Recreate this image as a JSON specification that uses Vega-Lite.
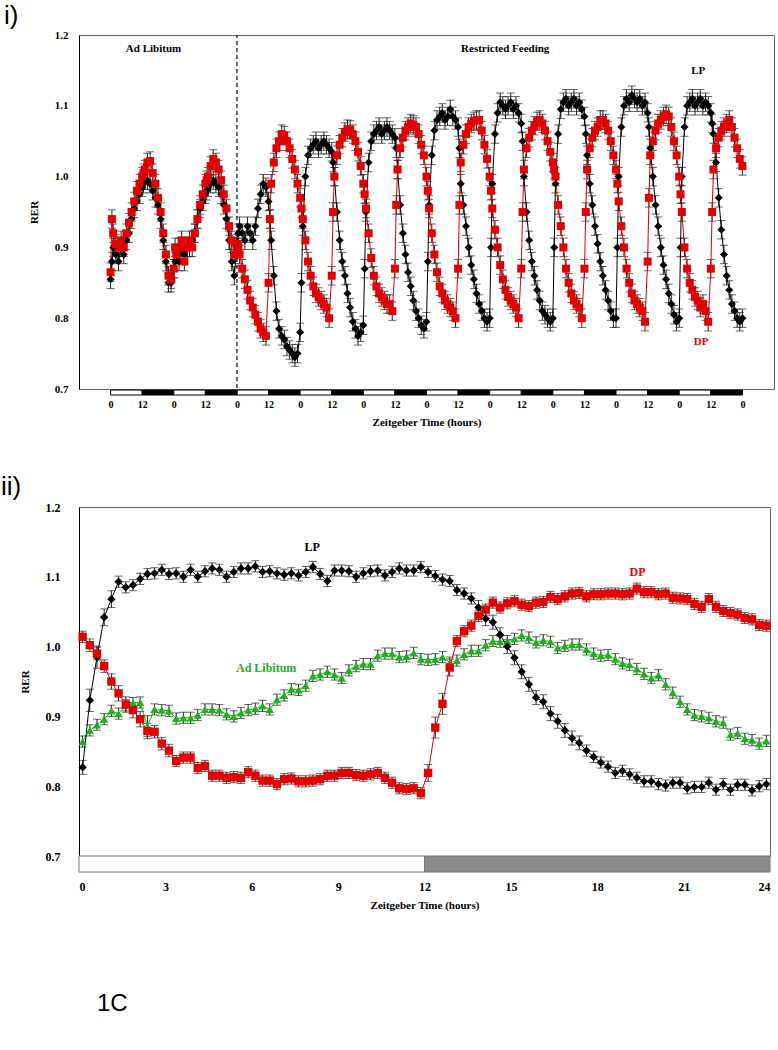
{
"$schema": "https://vega.github.io/schema/vega-lite/v6.json",
"padding": {"top": 2, "left": 0, "right": 0, "bottom": 0},
"spacing": 45,
"background": "white",
"config": {
 "view": {"stroke": "#666666", "strokeWidth": 1},
 "axis": {"grid": false, "ticks": false, "labelFont": "Liberation Serif", "labelFontWeight": "bold", "labelColor": "#000000", "titleFont": "Liberation Serif", "titleFontWeight": "bold", "titleColor": "#000000"}
},
"datasets": {
"bar1": [
{"t":0,"t2":12,"ph":"L","v":0.6985,"v2":0.6915},{"t":12,"t2":24,"ph":"D","v":0.6985,"v2":0.6915},{"t":24,"t2":36,"ph":"L","v":0.6985,"v2":0.6915},{"t":36,"t2":48,"ph":"D","v":0.6985,"v2":0.6915},{"t":48,"t2":60,"ph":"L","v":0.6985,"v2":0.6915},{"t":60,"t2":72,"ph":"D","v":0.6985,"v2":0.6915},{"t":72,"t2":84,"ph":"L","v":0.6985,"v2":0.6915},{"t":84,"t2":96,"ph":"D","v":0.6985,"v2":0.6915},{"t":96,"t2":108,"ph":"L","v":0.6985,"v2":0.6915},{"t":108,"t2":120,"ph":"D","v":0.6985,"v2":0.6915},{"t":120,"t2":132,"ph":"L","v":0.6985,"v2":0.6915},{"t":132,"t2":144,"ph":"D","v":0.6985,"v2":0.6915},{"t":144,"t2":156,"ph":"L","v":0.6985,"v2":0.6915},{"t":156,"t2":168,"ph":"D","v":0.6985,"v2":0.6915},{"t":168,"t2":180,"ph":"L","v":0.6985,"v2":0.6915},{"t":180,"t2":192,"ph":"D","v":0.6985,"v2":0.6915},{"t":192,"t2":204,"ph":"L","v":0.6985,"v2":0.6915},{"t":204,"t2":216,"ph":"D","v":0.6985,"v2":0.6915},{"t":216,"t2":228,"ph":"L","v":0.6985,"v2":0.6915},{"t":228,"t2":240,"ph":"D","v":0.6985,"v2":0.6915}
],
"bar2": [{"t":0,"t2":12,"ph":"W","v":0.7,"v2":0.677},{"t":12,"t2":24,"ph":"G","v":0.7,"v2":0.677}],
"rf": [{"t":48,"v":0.6915,"v2":1.2}],
"ann1": [
{"t":16.3,"v":1.18,"txt":"Ad Libitum","s":"X"},
{"t":149.9,"v":1.18,"txt":"Restricted Feeding","s":"X"},
{"t":223.2,"v":1.149,"txt":"LP","s":"LP"},
{"t":224.3,"v":0.766,"txt":"DP","s":"DP"}
],
"lab1": [{"t":-40.5,"v":1.2269,"txt":"i)"}],
"ann2": [
{"t":8.1,"v":1.143,"txt":"LP","s":"LP"},
{"t":6.5,"v":0.969,"txt":"Ad Libitum","s":"AL"},
{"t":19.4,"v":1.107,"txt":"DP","s":"DP"}
],
"lab2": [{"t":-2.71,"v":1.228,"txt":"ii)"}],
"lab3": [{"t":0.625,"v":0.488,"txt":"1C"}],
"p1": [
{"t":0,"s":"LP","v":0.855,"e":0.013},{"t":0.5,"s":"LP","v":0.88,"e":0.013},{"t":1,"s":"LP","v":0.9,"e":0.013},{"t":2,"s":"LP","v":0.89,"e":0.013},{"t":3,"s":"LP","v":0.88,"e":0.013},{"t":4,"s":"LP","v":0.9,"e":0.013},{"t":5,"s":"LP","v":0.89,"e":0.013},{"t":6,"s":"LP","v":0.91,"e":0.013},{"t":7,"s":"LP","v":0.92,"e":0.013},{"t":8,"s":"LP","v":0.94,"e":0.013},{"t":9,"s":"LP","v":0.955,"e":0.013},{"t":10,"s":"LP","v":0.965,"e":0.013},{"t":11,"s":"LP","v":0.975,"e":0.013},{"t":12,"s":"LP","v":0.985,"e":0.013},{"t":12.5,"s":"LP","v":0.99,"e":0.013},{"t":13,"s":"LP","v":0.995,"e":0.013},{"t":14,"s":"LP","v":0.995,"e":0.013},{"t":15,"s":"LP","v":0.99,"e":0.013},{"t":16,"s":"LP","v":0.98,"e":0.013},{"t":17,"s":"LP","v":0.97,"e":0.013},{"t":18,"s":"LP","v":0.96,"e":0.013},{"t":19,"s":"LP","v":0.94,"e":0.013},{"t":20,"s":"LP","v":0.91,"e":0.013},{"t":21,"s":"LP","v":0.88,"e":0.013},{"t":22,"s":"LP","v":0.85,"e":0.013},{"t":23,"s":"LP","v":0.85,"e":0.013},
{"t":24,"s":"LP","v":0.87,"e":0.013},{"t":24.5,"s":"LP","v":0.88,"e":0.013},{"t":25,"s":"LP","v":0.89,"e":0.013},{"t":26,"s":"LP","v":0.88,"e":0.013},{"t":27,"s":"LP","v":0.9,"e":0.013},{"t":28,"s":"LP","v":0.89,"e":0.013},{"t":29,"s":"LP","v":0.9,"e":0.013},{"t":30,"s":"LP","v":0.9,"e":0.013},{"t":31,"s":"LP","v":0.91,"e":0.013},{"t":32,"s":"LP","v":0.92,"e":0.013},{"t":33,"s":"LP","v":0.94,"e":0.013},{"t":34,"s":"LP","v":0.955,"e":0.013},{"t":35,"s":"LP","v":0.965,"e":0.013},{"t":36,"s":"LP","v":0.975,"e":0.013},{"t":36.5,"s":"LP","v":0.98,"e":0.013},{"t":37,"s":"LP","v":0.985,"e":0.013},{"t":38,"s":"LP","v":0.99,"e":0.013},{"t":39,"s":"LP","v":0.995,"e":0.013},{"t":40,"s":"LP","v":0.99,"e":0.013},{"t":41,"s":"LP","v":0.985,"e":0.013},{"t":42,"s":"LP","v":0.975,"e":0.013},{"t":43,"s":"LP","v":0.96,"e":0.013},{"t":44,"s":"LP","v":0.94,"e":0.013},{"t":45,"s":"LP","v":0.91,"e":0.013},{"t":46,"s":"LP","v":0.88,"e":0.013},{"t":47,"s":"LP","v":0.86,"e":0.013},
{"t":48,"s":"LP","v":0.9,"e":0.013},{"t":48.5,"s":"LP","v":0.92,"e":0.013},{"t":49,"s":"LP","v":0.93,"e":0.013},{"t":50,"s":"LP","v":0.92,"e":0.013},{"t":51,"s":"LP","v":0.91,"e":0.013},{"t":52,"s":"LP","v":0.93,"e":0.013},{"t":53,"s":"LP","v":0.92,"e":0.013},{"t":54,"s":"LP","v":0.91,"e":0.013},{"t":55,"s":"LP","v":0.93,"e":0.013},{"t":56,"s":"LP","v":0.955,"e":0.013},{"t":57,"s":"LP","v":0.975,"e":0.013},{"t":58,"s":"LP","v":0.99,"e":0.013},{"t":59,"s":"LP","v":0.985,"e":0.013},{"t":60,"s":"LP","v":0.965,"e":0.013},{"t":60.5,"s":"LP","v":0.94,"e":0.013},{"t":61,"s":"LP","v":0.91,"e":0.013},{"t":62,"s":"LP","v":0.86,"e":0.013},{"t":63,"s":"LP","v":0.81,"e":0.013},{"t":64,"s":"LP","v":0.785,"e":0.013},{"t":65,"s":"LP","v":0.775,"e":0.013},{"t":66,"s":"LP","v":0.77,"e":0.013},{"t":67,"s":"LP","v":0.76,"e":0.013},{"t":68,"s":"LP","v":0.755,"e":0.013},{"t":69,"s":"LP","v":0.75,"e":0.013},{"t":70,"s":"LP","v":0.745,"e":0.013},{"t":71,"s":"LP","v":0.75,"e":0.013},
{"t":72,"s":"LP","v":0.78,"e":0.013},{"t":72.5,"s":"LP","v":0.85,"e":0.013},{"t":73,"s":"LP","v":0.93,"e":0.013},{"t":74,"s":"LP","v":1.0,"e":0.013},{"t":75,"s":"LP","v":1.03,"e":0.013},{"t":76,"s":"LP","v":1.04,"e":0.013},{"t":77,"s":"LP","v":1.045,"e":0.013},{"t":78,"s":"LP","v":1.05,"e":0.013},{"t":79,"s":"LP","v":1.04,"e":0.013},{"t":80,"s":"LP","v":1.045,"e":0.013},{"t":81,"s":"LP","v":1.05,"e":0.013},{"t":82,"s":"LP","v":1.045,"e":0.013},{"t":83,"s":"LP","v":1.04,"e":0.013},{"t":84,"s":"LP","v":1.035,"e":0.013},{"t":84.5,"s":"LP","v":1.02,"e":0.013},{"t":85,"s":"LP","v":1.0,"e":0.013},{"t":86,"s":"LP","v":0.95,"e":0.013},{"t":87,"s":"LP","v":0.91,"e":0.013},{"t":88,"s":"LP","v":0.88,"e":0.013},{"t":89,"s":"LP","v":0.86,"e":0.013},{"t":90,"s":"LP","v":0.835,"e":0.013},{"t":91,"s":"LP","v":0.815,"e":0.013},{"t":92,"s":"LP","v":0.795,"e":0.013},{"t":93,"s":"LP","v":0.785,"e":0.013},{"t":94,"s":"LP","v":0.775,"e":0.013},{"t":95,"s":"LP","v":0.78,"e":0.013},
{"t":96,"s":"LP","v":0.79,"e":0.013},{"t":96.5,"s":"LP","v":0.87,"e":0.013},{"t":97,"s":"LP","v":0.95,"e":0.013},{"t":98,"s":"LP","v":1.02,"e":0.013},{"t":99,"s":"LP","v":1.05,"e":0.013},{"t":100,"s":"LP","v":1.06,"e":0.013},{"t":101,"s":"LP","v":1.065,"e":0.013},{"t":102,"s":"LP","v":1.07,"e":0.013},{"t":103,"s":"LP","v":1.06,"e":0.013},{"t":104,"s":"LP","v":1.065,"e":0.013},{"t":105,"s":"LP","v":1.07,"e":0.013},{"t":106,"s":"LP","v":1.065,"e":0.013},{"t":107,"s":"LP","v":1.06,"e":0.013},{"t":108,"s":"LP","v":1.055,"e":0.013},{"t":108.5,"s":"LP","v":1.04,"e":0.013},{"t":109,"s":"LP","v":1.01,"e":0.013},{"t":110,"s":"LP","v":0.96,"e":0.013},{"t":111,"s":"LP","v":0.92,"e":0.013},{"t":112,"s":"LP","v":0.89,"e":0.013},{"t":113,"s":"LP","v":0.865,"e":0.013},{"t":114,"s":"LP","v":0.845,"e":0.013},{"t":115,"s":"LP","v":0.825,"e":0.013},{"t":116,"s":"LP","v":0.81,"e":0.013},{"t":117,"s":"LP","v":0.8,"e":0.013},{"t":118,"s":"LP","v":0.79,"e":0.013},{"t":119,"s":"LP","v":0.785,"e":0.013},
{"t":120,"s":"LP","v":0.795,"e":0.013},{"t":120.5,"s":"LP","v":0.88,"e":0.013},{"t":121,"s":"LP","v":0.96,"e":0.013},{"t":122,"s":"LP","v":1.03,"e":0.013},{"t":123,"s":"LP","v":1.065,"e":0.013},{"t":124,"s":"LP","v":1.08,"e":0.013},{"t":125,"s":"LP","v":1.085,"e":0.013},{"t":126,"s":"LP","v":1.09,"e":0.013},{"t":127,"s":"LP","v":1.08,"e":0.013},{"t":128,"s":"LP","v":1.085,"e":0.013},{"t":129,"s":"LP","v":1.095,"e":0.013},{"t":130,"s":"LP","v":1.085,"e":0.013},{"t":131,"s":"LP","v":1.08,"e":0.013},{"t":132,"s":"LP","v":1.07,"e":0.013},{"t":132.5,"s":"LP","v":1.04,"e":0.013},{"t":133,"s":"LP","v":0.99,"e":0.013},{"t":134,"s":"LP","v":0.96,"e":0.013},{"t":135,"s":"LP","v":0.93,"e":0.013},{"t":136,"s":"LP","v":0.9,"e":0.013},{"t":137,"s":"LP","v":0.875,"e":0.013},{"t":138,"s":"LP","v":0.855,"e":0.013},{"t":139,"s":"LP","v":0.835,"e":0.013},{"t":140,"s":"LP","v":0.82,"e":0.013},{"t":141,"s":"LP","v":0.81,"e":0.013},{"t":142,"s":"LP","v":0.8,"e":0.013},{"t":143,"s":"LP","v":0.795,"e":0.013},
{"t":144,"s":"LP","v":0.8,"e":0.013},{"t":144.5,"s":"LP","v":0.9,"e":0.013},{"t":145,"s":"LP","v":0.99,"e":0.013},{"t":146,"s":"LP","v":1.06,"e":0.013},{"t":147,"s":"LP","v":1.09,"e":0.013},{"t":148,"s":"LP","v":1.105,"e":0.013},{"t":149,"s":"LP","v":1.1,"e":0.013},{"t":150,"s":"LP","v":1.095,"e":0.013},{"t":151,"s":"LP","v":1.1,"e":0.013},{"t":152,"s":"LP","v":1.105,"e":0.013},{"t":153,"s":"LP","v":1.095,"e":0.013},{"t":154,"s":"LP","v":1.1,"e":0.013},{"t":155,"s":"LP","v":1.09,"e":0.013},{"t":156,"s":"LP","v":1.075,"e":0.013},{"t":156.5,"s":"LP","v":1.05,"e":0.013},{"t":157,"s":"LP","v":1.0,"e":0.013},{"t":158,"s":"LP","v":0.95,"e":0.013},{"t":159,"s":"LP","v":0.91,"e":0.013},{"t":160,"s":"LP","v":0.88,"e":0.013},{"t":161,"s":"LP","v":0.86,"e":0.013},{"t":162,"s":"LP","v":0.84,"e":0.013},{"t":163,"s":"LP","v":0.825,"e":0.013},{"t":164,"s":"LP","v":0.81,"e":0.013},{"t":165,"s":"LP","v":0.805,"e":0.013},{"t":166,"s":"LP","v":0.8,"e":0.013},{"t":167,"s":"LP","v":0.795,"e":0.013},
{"t":168,"s":"LP","v":0.8,"e":0.013},{"t":168.5,"s":"LP","v":0.9,"e":0.013},{"t":169,"s":"LP","v":0.99,"e":0.013},{"t":170,"s":"LP","v":1.06,"e":0.013},{"t":171,"s":"LP","v":1.095,"e":0.013},{"t":172,"s":"LP","v":1.105,"e":0.013},{"t":173,"s":"LP","v":1.11,"e":0.013},{"t":174,"s":"LP","v":1.1,"e":0.013},{"t":175,"s":"LP","v":1.105,"e":0.013},{"t":176,"s":"LP","v":1.11,"e":0.013},{"t":177,"s":"LP","v":1.1,"e":0.013},{"t":178,"s":"LP","v":1.105,"e":0.013},{"t":179,"s":"LP","v":1.095,"e":0.013},{"t":180,"s":"LP","v":1.085,"e":0.013},{"t":180.5,"s":"LP","v":1.06,"e":0.013},{"t":181,"s":"LP","v":1.03,"e":0.013},{"t":182,"s":"LP","v":0.99,"e":0.013},{"t":183,"s":"LP","v":0.96,"e":0.013},{"t":184,"s":"LP","v":0.93,"e":0.013},{"t":185,"s":"LP","v":0.905,"e":0.013},{"t":186,"s":"LP","v":0.88,"e":0.013},{"t":187,"s":"LP","v":0.86,"e":0.013},{"t":188,"s":"LP","v":0.84,"e":0.013},{"t":189,"s":"LP","v":0.825,"e":0.013},{"t":190,"s":"LP","v":0.81,"e":0.013},{"t":191,"s":"LP","v":0.8,"e":0.013},
{"t":192,"s":"LP","v":0.8,"e":0.013},{"t":192.5,"s":"LP","v":0.9,"e":0.013},{"t":193,"s":"LP","v":1.0,"e":0.013},{"t":194,"s":"LP","v":1.07,"e":0.013},{"t":195,"s":"LP","v":1.1,"e":0.013},{"t":196,"s":"LP","v":1.11,"e":0.013},{"t":197,"s":"LP","v":1.105,"e":0.013},{"t":198,"s":"LP","v":1.115,"e":0.013},{"t":199,"s":"LP","v":1.11,"e":0.013},{"t":200,"s":"LP","v":1.105,"e":0.013},{"t":201,"s":"LP","v":1.11,"e":0.013},{"t":202,"s":"LP","v":1.1,"e":0.013},{"t":203,"s":"LP","v":1.105,"e":0.013},{"t":204,"s":"LP","v":1.09,"e":0.013},{"t":204.5,"s":"LP","v":1.07,"e":0.013},{"t":205,"s":"LP","v":1.04,"e":0.013},{"t":206,"s":"LP","v":1.0,"e":0.013},{"t":207,"s":"LP","v":0.96,"e":0.013},{"t":208,"s":"LP","v":0.93,"e":0.013},{"t":209,"s":"LP","v":0.9,"e":0.013},{"t":210,"s":"LP","v":0.875,"e":0.013},{"t":211,"s":"LP","v":0.855,"e":0.013},{"t":212,"s":"LP","v":0.835,"e":0.013},{"t":213,"s":"LP","v":0.82,"e":0.013},{"t":214,"s":"LP","v":0.805,"e":0.013},{"t":215,"s":"LP","v":0.795,"e":0.013},
{"t":216,"s":"LP","v":0.8,"e":0.013},{"t":216.5,"s":"LP","v":0.9,"e":0.013},{"t":217,"s":"LP","v":1.0,"e":0.013},{"t":218,"s":"LP","v":1.07,"e":0.013},{"t":219,"s":"LP","v":1.1,"e":0.013},{"t":220,"s":"LP","v":1.105,"e":0.013},{"t":221,"s":"LP","v":1.11,"e":0.013},{"t":222,"s":"LP","v":1.1,"e":0.013},{"t":223,"s":"LP","v":1.105,"e":0.013},{"t":224,"s":"LP","v":1.11,"e":0.013},{"t":225,"s":"LP","v":1.1,"e":0.013},{"t":226,"s":"LP","v":1.105,"e":0.013},{"t":227,"s":"LP","v":1.1,"e":0.013},{"t":228,"s":"LP","v":1.09,"e":0.013},{"t":228.5,"s":"LP","v":1.075,"e":0.013},{"t":229,"s":"LP","v":1.06,"e":0.013},{"t":230,"s":"LP","v":1.02,"e":0.013},{"t":231,"s":"LP","v":0.97,"e":0.013},{"t":232,"s":"LP","v":0.925,"e":0.013},{"t":233,"s":"LP","v":0.89,"e":0.013},{"t":234,"s":"LP","v":0.86,"e":0.013},{"t":235,"s":"LP","v":0.84,"e":0.013},{"t":236,"s":"LP","v":0.82,"e":0.013},{"t":237,"s":"LP","v":0.81,"e":0.013},{"t":238,"s":"LP","v":0.8,"e":0.013},{"t":239,"s":"LP","v":0.795,"e":0.013},{"t":240,"s":"LP","v":0.8,"e":0.013},
{"t":0,"s":"DP","v":0.865,"e":0.013},{"t":0.5,"s":"DP","v":0.94,"e":0.013},{"t":1,"s":"DP","v":0.92,"e":0.013},{"t":2,"s":"DP","v":0.905,"e":0.013},{"t":3,"s":"DP","v":0.9,"e":0.013},{"t":4,"s":"DP","v":0.91,"e":0.013},{"t":5,"s":"DP","v":0.9,"e":0.013},{"t":6,"s":"DP","v":0.92,"e":0.013},{"t":7,"s":"DP","v":0.935,"e":0.013},{"t":8,"s":"DP","v":0.95,"e":0.013},{"t":9,"s":"DP","v":0.965,"e":0.013},{"t":10,"s":"DP","v":0.98,"e":0.013},{"t":11,"s":"DP","v":0.99,"e":0.013},{"t":12,"s":"DP","v":1.0,"e":0.013},{"t":12.5,"s":"DP","v":1.005,"e":0.013},{"t":13,"s":"DP","v":1.01,"e":0.013},{"t":14,"s":"DP","v":1.02,"e":0.013},{"t":15,"s":"DP","v":1.022,"e":0.013},{"t":16,"s":"DP","v":1.005,"e":0.013},{"t":17,"s":"DP","v":0.99,"e":0.013},{"t":18,"s":"DP","v":0.97,"e":0.013},{"t":19,"s":"DP","v":0.95,"e":0.013},{"t":20,"s":"DP","v":0.92,"e":0.013},{"t":21,"s":"DP","v":0.89,"e":0.013},{"t":22,"s":"DP","v":0.86,"e":0.013},{"t":23,"s":"DP","v":0.855,"e":0.013},
{"t":24,"s":"DP","v":0.87,"e":0.013},{"t":24.5,"s":"DP","v":0.9,"e":0.013},{"t":25,"s":"DP","v":0.89,"e":0.013},{"t":26,"s":"DP","v":0.9,"e":0.013},{"t":27,"s":"DP","v":0.91,"e":0.013},{"t":28,"s":"DP","v":0.88,"e":0.013},{"t":29,"s":"DP","v":0.9,"e":0.013},{"t":30,"s":"DP","v":0.91,"e":0.013},{"t":31,"s":"DP","v":0.9,"e":0.013},{"t":32,"s":"DP","v":0.92,"e":0.013},{"t":33,"s":"DP","v":0.94,"e":0.013},{"t":34,"s":"DP","v":0.96,"e":0.013},{"t":35,"s":"DP","v":0.975,"e":0.013},{"t":36,"s":"DP","v":0.99,"e":0.013},{"t":36.5,"s":"DP","v":0.995,"e":0.013},{"t":37,"s":"DP","v":1.0,"e":0.013},{"t":38,"s":"DP","v":1.015,"e":0.013},{"t":39,"s":"DP","v":1.025,"e":0.013},{"t":40,"s":"DP","v":1.02,"e":0.013},{"t":41,"s":"DP","v":1.01,"e":0.013},{"t":42,"s":"DP","v":0.995,"e":0.013},{"t":43,"s":"DP","v":0.975,"e":0.013},{"t":44,"s":"DP","v":0.955,"e":0.013},{"t":45,"s":"DP","v":0.93,"e":0.013},{"t":46,"s":"DP","v":0.91,"e":0.013},{"t":47,"s":"DP","v":0.89,"e":0.013},
{"t":48,"s":"DP","v":0.905,"e":0.013},{"t":48.5,"s":"DP","v":0.9,"e":0.013},{"t":49,"s":"DP","v":0.89,"e":0.013},{"t":50,"s":"DP","v":0.87,"e":0.013},{"t":51,"s":"DP","v":0.855,"e":0.013},{"t":52,"s":"DP","v":0.84,"e":0.013},{"t":53,"s":"DP","v":0.825,"e":0.013},{"t":54,"s":"DP","v":0.815,"e":0.013},{"t":55,"s":"DP","v":0.805,"e":0.013},{"t":56,"s":"DP","v":0.795,"e":0.013},{"t":57,"s":"DP","v":0.785,"e":0.013},{"t":58,"s":"DP","v":0.78,"e":0.013},{"t":59,"s":"DP","v":0.775,"e":0.013},{"t":60,"s":"DP","v":0.85,"e":0.013},{"t":60.5,"s":"DP","v":0.94,"e":0.013},{"t":61,"s":"DP","v":0.99,"e":0.013},{"t":62,"s":"DP","v":1.02,"e":0.013},{"t":63,"s":"DP","v":1.04,"e":0.013},{"t":64,"s":"DP","v":1.05,"e":0.013},{"t":65,"s":"DP","v":1.06,"e":0.013},{"t":66,"s":"DP","v":1.058,"e":0.013},{"t":67,"s":"DP","v":1.05,"e":0.013},{"t":68,"s":"DP","v":1.04,"e":0.013},{"t":69,"s":"DP","v":1.025,"e":0.013},{"t":70,"s":"DP","v":1.01,"e":0.013},{"t":71,"s":"DP","v":0.99,"e":0.013},
{"t":72,"s":"DP","v":0.97,"e":0.013},{"t":72.5,"s":"DP","v":0.955,"e":0.013},{"t":73,"s":"DP","v":0.94,"e":0.013},{"t":74,"s":"DP","v":0.91,"e":0.013},{"t":75,"s":"DP","v":0.88,"e":0.013},{"t":76,"s":"DP","v":0.86,"e":0.013},{"t":77,"s":"DP","v":0.845,"e":0.013},{"t":78,"s":"DP","v":0.835,"e":0.013},{"t":79,"s":"DP","v":0.83,"e":0.013},{"t":80,"s":"DP","v":0.825,"e":0.013},{"t":81,"s":"DP","v":0.82,"e":0.013},{"t":82,"s":"DP","v":0.815,"e":0.013},{"t":83,"s":"DP","v":0.8,"e":0.013},{"t":84,"s":"DP","v":0.86,"e":0.013},{"t":84.5,"s":"DP","v":0.95,"e":0.013},{"t":85,"s":"DP","v":1.0,"e":0.013},{"t":86,"s":"DP","v":1.03,"e":0.013},{"t":87,"s":"DP","v":1.045,"e":0.013},{"t":88,"s":"DP","v":1.055,"e":0.013},{"t":89,"s":"DP","v":1.063,"e":0.013},{"t":90,"s":"DP","v":1.067,"e":0.013},{"t":91,"s":"DP","v":1.066,"e":0.013},{"t":92,"s":"DP","v":1.06,"e":0.013},{"t":93,"s":"DP","v":1.05,"e":0.013},{"t":94,"s":"DP","v":1.035,"e":0.013},{"t":95,"s":"DP","v":1.015,"e":0.013},
{"t":96,"s":"DP","v":0.99,"e":0.013},{"t":96.5,"s":"DP","v":0.975,"e":0.013},{"t":97,"s":"DP","v":0.955,"e":0.013},{"t":98,"s":"DP","v":0.92,"e":0.013},{"t":99,"s":"DP","v":0.885,"e":0.013},{"t":100,"s":"DP","v":0.86,"e":0.013},{"t":101,"s":"DP","v":0.845,"e":0.013},{"t":102,"s":"DP","v":0.835,"e":0.013},{"t":103,"s":"DP","v":0.83,"e":0.013},{"t":104,"s":"DP","v":0.825,"e":0.013},{"t":105,"s":"DP","v":0.82,"e":0.013},{"t":106,"s":"DP","v":0.82,"e":0.013},{"t":107,"s":"DP","v":0.81,"e":0.013},{"t":108,"s":"DP","v":0.87,"e":0.013},{"t":108.5,"s":"DP","v":0.96,"e":0.013},{"t":109,"s":"DP","v":1.01,"e":0.013},{"t":110,"s":"DP","v":1.04,"e":0.013},{"t":111,"s":"DP","v":1.055,"e":0.013},{"t":112,"s":"DP","v":1.065,"e":0.013},{"t":113,"s":"DP","v":1.07,"e":0.013},{"t":114,"s":"DP","v":1.075,"e":0.013},{"t":115,"s":"DP","v":1.073,"e":0.013},{"t":116,"s":"DP","v":1.07,"e":0.013},{"t":117,"s":"DP","v":1.06,"e":0.013},{"t":118,"s":"DP","v":1.045,"e":0.013},{"t":119,"s":"DP","v":1.03,"e":0.013},
{"t":120,"s":"DP","v":1.0,"e":0.013},{"t":120.5,"s":"DP","v":0.98,"e":0.013},{"t":121,"s":"DP","v":0.955,"e":0.013},{"t":122,"s":"DP","v":0.92,"e":0.013},{"t":123,"s":"DP","v":0.89,"e":0.013},{"t":124,"s":"DP","v":0.865,"e":0.013},{"t":125,"s":"DP","v":0.845,"e":0.013},{"t":126,"s":"DP","v":0.835,"e":0.013},{"t":127,"s":"DP","v":0.825,"e":0.013},{"t":128,"s":"DP","v":0.82,"e":0.013},{"t":129,"s":"DP","v":0.815,"e":0.013},{"t":130,"s":"DP","v":0.81,"e":0.013},{"t":131,"s":"DP","v":0.8,"e":0.013},{"t":132,"s":"DP","v":0.87,"e":0.013},{"t":132.5,"s":"DP","v":0.96,"e":0.013},{"t":133,"s":"DP","v":1.02,"e":0.013},{"t":134,"s":"DP","v":1.045,"e":0.013},{"t":135,"s":"DP","v":1.06,"e":0.013},{"t":136,"s":"DP","v":1.07,"e":0.013},{"t":137,"s":"DP","v":1.075,"e":0.013},{"t":138,"s":"DP","v":1.078,"e":0.013},{"t":139,"s":"DP","v":1.08,"e":0.013},{"t":140,"s":"DP","v":1.08,"e":0.013},{"t":141,"s":"DP","v":1.065,"e":0.013},{"t":142,"s":"DP","v":1.045,"e":0.013},{"t":143,"s":"DP","v":1.025,"e":0.013},
{"t":144,"s":"DP","v":1.0,"e":0.013},{"t":144.5,"s":"DP","v":0.98,"e":0.013},{"t":145,"s":"DP","v":0.955,"e":0.013},{"t":146,"s":"DP","v":0.925,"e":0.013},{"t":147,"s":"DP","v":0.9,"e":0.013},{"t":148,"s":"DP","v":0.875,"e":0.013},{"t":149,"s":"DP","v":0.855,"e":0.013},{"t":150,"s":"DP","v":0.84,"e":0.013},{"t":151,"s":"DP","v":0.83,"e":0.013},{"t":152,"s":"DP","v":0.825,"e":0.013},{"t":153,"s":"DP","v":0.82,"e":0.013},{"t":154,"s":"DP","v":0.815,"e":0.013},{"t":155,"s":"DP","v":0.8,"e":0.013},{"t":156,"s":"DP","v":0.87,"e":0.013},{"t":156.5,"s":"DP","v":0.95,"e":0.013},{"t":157,"s":"DP","v":1.01,"e":0.013},{"t":158,"s":"DP","v":1.04,"e":0.013},{"t":159,"s":"DP","v":1.055,"e":0.013},{"t":160,"s":"DP","v":1.065,"e":0.013},{"t":161,"s":"DP","v":1.072,"e":0.013},{"t":162,"s":"DP","v":1.078,"e":0.013},{"t":163,"s":"DP","v":1.08,"e":0.013},{"t":164,"s":"DP","v":1.075,"e":0.013},{"t":165,"s":"DP","v":1.065,"e":0.013},{"t":166,"s":"DP","v":1.05,"e":0.013},{"t":167,"s":"DP","v":1.035,"e":0.013},
{"t":168,"s":"DP","v":1.02,"e":0.013},{"t":168.5,"s":"DP","v":1.01,"e":0.013},{"t":169,"s":"DP","v":1.0,"e":0.013},{"t":170,"s":"DP","v":0.96,"e":0.013},{"t":171,"s":"DP","v":0.93,"e":0.013},{"t":172,"s":"DP","v":0.9,"e":0.013},{"t":173,"s":"DP","v":0.87,"e":0.013},{"t":174,"s":"DP","v":0.85,"e":0.013},{"t":175,"s":"DP","v":0.835,"e":0.013},{"t":176,"s":"DP","v":0.825,"e":0.013},{"t":177,"s":"DP","v":0.82,"e":0.013},{"t":178,"s":"DP","v":0.815,"e":0.013},{"t":179,"s":"DP","v":0.8,"e":0.013},{"t":180,"s":"DP","v":0.87,"e":0.013},{"t":180.5,"s":"DP","v":0.95,"e":0.013},{"t":181,"s":"DP","v":1.01,"e":0.013},{"t":182,"s":"DP","v":1.04,"e":0.013},{"t":183,"s":"DP","v":1.055,"e":0.013},{"t":184,"s":"DP","v":1.065,"e":0.013},{"t":185,"s":"DP","v":1.07,"e":0.013},{"t":186,"s":"DP","v":1.08,"e":0.013},{"t":187,"s":"DP","v":1.08,"e":0.013},{"t":188,"s":"DP","v":1.075,"e":0.013},{"t":189,"s":"DP","v":1.065,"e":0.013},{"t":190,"s":"DP","v":1.05,"e":0.013},{"t":191,"s":"DP","v":1.03,"e":0.013},
{"t":192,"s":"DP","v":1.01,"e":0.013},{"t":192.5,"s":"DP","v":0.99,"e":0.013},{"t":193,"s":"DP","v":0.965,"e":0.013},{"t":194,"s":"DP","v":0.93,"e":0.013},{"t":195,"s":"DP","v":0.9,"e":0.013},{"t":196,"s":"DP","v":0.87,"e":0.013},{"t":197,"s":"DP","v":0.85,"e":0.013},{"t":198,"s":"DP","v":0.835,"e":0.013},{"t":199,"s":"DP","v":0.825,"e":0.013},{"t":200,"s":"DP","v":0.82,"e":0.013},{"t":201,"s":"DP","v":0.815,"e":0.013},{"t":202,"s":"DP","v":0.81,"e":0.013},{"t":203,"s":"DP","v":0.795,"e":0.013},{"t":204,"s":"DP","v":0.88,"e":0.013},{"t":204.5,"s":"DP","v":0.97,"e":0.013},{"t":205,"s":"DP","v":1.03,"e":0.013},{"t":206,"s":"DP","v":1.05,"e":0.013},{"t":207,"s":"DP","v":1.065,"e":0.013},{"t":208,"s":"DP","v":1.075,"e":0.013},{"t":209,"s":"DP","v":1.08,"e":0.013},{"t":210,"s":"DP","v":1.085,"e":0.013},{"t":211,"s":"DP","v":1.088,"e":0.013},{"t":212,"s":"DP","v":1.085,"e":0.013},{"t":213,"s":"DP","v":1.07,"e":0.013},{"t":214,"s":"DP","v":1.05,"e":0.013},{"t":215,"s":"DP","v":1.03,"e":0.013},
{"t":216,"s":"DP","v":1.0,"e":0.013},{"t":216.5,"s":"DP","v":0.975,"e":0.013},{"t":217,"s":"DP","v":0.95,"e":0.013},{"t":218,"s":"DP","v":0.9,"e":0.013},{"t":219,"s":"DP","v":0.87,"e":0.013},{"t":220,"s":"DP","v":0.85,"e":0.013},{"t":221,"s":"DP","v":0.84,"e":0.013},{"t":222,"s":"DP","v":0.83,"e":0.013},{"t":223,"s":"DP","v":0.825,"e":0.013},{"t":224,"s":"DP","v":0.815,"e":0.013},{"t":225,"s":"DP","v":0.82,"e":0.013},{"t":226,"s":"DP","v":0.81,"e":0.013},{"t":227,"s":"DP","v":0.795,"e":0.013},{"t":228,"s":"DP","v":0.87,"e":0.013},{"t":228.5,"s":"DP","v":0.95,"e":0.013},{"t":229,"s":"DP","v":1.01,"e":0.013},{"t":230,"s":"DP","v":1.04,"e":0.013},{"t":231,"s":"DP","v":1.055,"e":0.013},{"t":232,"s":"DP","v":1.065,"e":0.013},{"t":233,"s":"DP","v":1.07,"e":0.013},{"t":234,"s":"DP","v":1.075,"e":0.013},{"t":235,"s":"DP","v":1.08,"e":0.013},{"t":236,"s":"DP","v":1.07,"e":0.013},{"t":237,"s":"DP","v":1.055,"e":0.013},{"t":238,"s":"DP","v":1.04,"e":0.013},{"t":239,"s":"DP","v":1.025,"e":0.013},{"t":240,"s":"DP","v":1.015,"e":0.013}
],
"p2": [
{"t":0.125,"s":"AL","v":0.864,"e":0.008},{"t":0.375,"s":"AL","v":0.88,"e":0.008},{"t":0.625,"s":"AL","v":0.888,"e":0.008},{"t":0.875,"s":"AL","v":0.896,"e":0.008},{"t":1.125,"s":"AL","v":0.908,"e":0.008},{"t":1.375,"s":"AL","v":0.904,"e":0.008},{"t":1.625,"s":"AL","v":0.916,"e":0.008},{"t":1.875,"s":"AL","v":0.919,"e":0.008},{"t":2.125,"s":"AL","v":0.92,"e":0.008},{"t":2.375,"s":"AL","v":0.886,"e":0.015},{"t":2.625,"s":"AL","v":0.91,"e":0.008},{"t":2.875,"s":"AL","v":0.909,"e":0.008},{"t":3.125,"s":"AL","v":0.908,"e":0.008},{"t":3.375,"s":"AL","v":0.897,"e":0.008},{"t":3.625,"s":"AL","v":0.898,"e":0.008},{"t":3.875,"s":"AL","v":0.898,"e":0.008},{"t":4.125,"s":"AL","v":0.902,"e":0.008},{"t":4.375,"s":"AL","v":0.91,"e":0.008},{"t":4.625,"s":"AL","v":0.91,"e":0.008},{"t":4.875,"s":"AL","v":0.909,"e":0.008},{"t":5.125,"s":"AL","v":0.903,"e":0.008},{"t":5.375,"s":"AL","v":0.9,"e":0.008},{"t":5.625,"s":"AL","v":0.905,"e":0.008},{"t":5.875,"s":"AL","v":0.909,"e":0.008},{"t":6.125,"s":"AL","v":0.911,"e":0.008},{"t":6.375,"s":"AL","v":0.915,"e":0.008},{"t":6.625,"s":"AL","v":0.91,"e":0.008},{"t":6.875,"s":"AL","v":0.924,"e":0.008},{"t":7.125,"s":"AL","v":0.93,"e":0.008},{"t":7.375,"s":"AL","v":0.939,"e":0.008},{"t":7.625,"s":"AL","v":0.938,"e":0.008},{"t":7.875,"s":"AL","v":0.944,"e":0.008},{"t":8.125,"s":"AL","v":0.958,"e":0.008},{"t":8.375,"s":"AL","v":0.96,"e":0.008},{"t":8.625,"s":"AL","v":0.964,"e":0.008},{"t":8.875,"s":"AL","v":0.96,"e":0.008},{"t":9.125,"s":"AL","v":0.955,"e":0.008},{"t":9.375,"s":"AL","v":0.966,"e":0.008},{"t":9.625,"s":"AL","v":0.972,"e":0.008},{"t":9.875,"s":"AL","v":0.975,"e":0.008},{"t":10.125,"s":"AL","v":0.975,"e":0.008},{"t":10.375,"s":"AL","v":0.987,"e":0.008},{"t":10.625,"s":"AL","v":0.99,"e":0.008},{"t":10.875,"s":"AL","v":0.99,"e":0.008},{"t":11.125,"s":"AL","v":0.985,"e":0.008},{"t":11.375,"s":"AL","v":0.986,"e":0.008},{"t":11.625,"s":"AL","v":0.991,"e":0.008},{"t":11.875,"s":"AL","v":0.982,"e":0.008},{"t":12.125,"s":"AL","v":0.981,"e":0.008},{"t":12.375,"s":"AL","v":0.982,"e":0.008},{"t":12.625,"s":"AL","v":0.985,"e":0.008},{"t":12.875,"s":"AL","v":0.977,"e":0.008},{"t":13.125,"s":"AL","v":0.98,"e":0.008},{"t":13.375,"s":"AL","v":0.989,"e":0.008},{"t":13.625,"s":"AL","v":0.994,"e":0.008},{"t":13.875,"s":"AL","v":0.994,"e":0.008},{"t":14.125,"s":"AL","v":1.002,"e":0.008},{"t":14.375,"s":"AL","v":1.008,"e":0.008},{"t":14.625,"s":"AL","v":1.007,"e":0.008},{"t":14.875,"s":"AL","v":1.008,"e":0.008},{"t":15.125,"s":"AL","v":1.011,"e":0.008},{"t":15.375,"s":"AL","v":1.016,"e":0.008},{"t":15.625,"s":"AL","v":1.013,"e":0.008},{"t":15.875,"s":"AL","v":1.006,"e":0.008},{"t":16.125,"s":"AL","v":1.009,"e":0.008},{"t":16.375,"s":"AL","v":1.007,"e":0.008},{"t":16.625,"s":"AL","v":0.998,"e":0.008},{"t":16.875,"s":"AL","v":1.001,"e":0.008},{"t":17.125,"s":"AL","v":1.003,"e":0.008},{"t":17.375,"s":"AL","v":1.003,"e":0.008},{"t":17.625,"s":"AL","v":0.996,"e":0.008},{"t":17.875,"s":"AL","v":0.99,"e":0.008},{"t":18.125,"s":"AL","v":0.987,"e":0.008},{"t":18.375,"s":"AL","v":0.988,"e":0.008},{"t":18.625,"s":"AL","v":0.982,"e":0.008},{"t":18.875,"s":"AL","v":0.976,"e":0.008},{"t":19.125,"s":"AL","v":0.974,"e":0.008},{"t":19.375,"s":"AL","v":0.968,"e":0.008},{"t":19.625,"s":"AL","v":0.961,"e":0.008},{"t":19.875,"s":"AL","v":0.955,"e":0.008},{"t":20.125,"s":"AL","v":0.959,"e":0.008},{"t":20.375,"s":"AL","v":0.946,"e":0.008},{"t":20.625,"s":"AL","v":0.934,"e":0.008},{"t":20.875,"s":"AL","v":0.921,"e":0.008},{"t":21.125,"s":"AL","v":0.91,"e":0.008},{"t":21.375,"s":"AL","v":0.902,"e":0.008},{"t":21.625,"s":"AL","v":0.9,"e":0.008},{"t":21.875,"s":"AL","v":0.898,"e":0.008},{"t":22.125,"s":"AL","v":0.893,"e":0.008},{"t":22.375,"s":"AL","v":0.891,"e":0.008},{"t":22.625,"s":"AL","v":0.874,"e":0.008},{"t":22.875,"s":"AL","v":0.876,"e":0.008},{"t":23.125,"s":"AL","v":0.868,"e":0.008},{"t":23.375,"s":"AL","v":0.866,"e":0.008},{"t":23.625,"s":"AL","v":0.861,"e":0.008},{"t":23.875,"s":"AL","v":0.865,"e":0.008},
{"t":0.125,"s":"LP","v":0.827,"e":0.01},{"t":0.375,"s":"LP","v":0.923,"e":0.016},{"t":0.625,"s":"LP","v":0.985,"e":0.016},{"t":0.875,"s":"LP","v":1.042,"e":0.012},{"t":1.125,"s":"LP","v":1.068,"e":0.012},{"t":1.375,"s":"LP","v":1.093,"e":0.008},{"t":1.625,"s":"LP","v":1.085,"e":0.008},{"t":1.875,"s":"LP","v":1.088,"e":0.008},{"t":2.125,"s":"LP","v":1.097,"e":0.008},{"t":2.375,"s":"LP","v":1.104,"e":0.008},{"t":2.625,"s":"LP","v":1.105,"e":0.008},{"t":2.875,"s":"LP","v":1.11,"e":0.008},{"t":3.125,"s":"LP","v":1.104,"e":0.008},{"t":3.375,"s":"LP","v":1.105,"e":0.008},{"t":3.625,"s":"LP","v":1.1,"e":0.008},{"t":3.875,"s":"LP","v":1.11,"e":0.008},{"t":4.125,"s":"LP","v":1.1,"e":0.008},{"t":4.375,"s":"LP","v":1.108,"e":0.008},{"t":4.625,"s":"LP","v":1.112,"e":0.008},{"t":4.875,"s":"LP","v":1.11,"e":0.008},{"t":5.125,"s":"LP","v":1.1,"e":0.008},{"t":5.375,"s":"LP","v":1.107,"e":0.008},{"t":5.625,"s":"LP","v":1.112,"e":0.008},{"t":5.875,"s":"LP","v":1.112,"e":0.008},{"t":6.125,"s":"LP","v":1.115,"e":0.008},{"t":6.375,"s":"LP","v":1.107,"e":0.008},{"t":6.625,"s":"LP","v":1.108,"e":0.008},{"t":6.875,"s":"LP","v":1.105,"e":0.008},{"t":7.125,"s":"LP","v":1.103,"e":0.008},{"t":7.375,"s":"LP","v":1.105,"e":0.008},{"t":7.625,"s":"LP","v":1.102,"e":0.008},{"t":7.875,"s":"LP","v":1.107,"e":0.008},{"t":8.125,"s":"LP","v":1.114,"e":0.008},{"t":8.375,"s":"LP","v":1.104,"e":0.008},{"t":8.625,"s":"LP","v":1.094,"e":0.008},{"t":8.875,"s":"LP","v":1.109,"e":0.008},{"t":9.125,"s":"LP","v":1.109,"e":0.008},{"t":9.375,"s":"LP","v":1.108,"e":0.008},{"t":9.625,"s":"LP","v":1.1,"e":0.008},{"t":9.875,"s":"LP","v":1.105,"e":0.008},{"t":10.125,"s":"LP","v":1.108,"e":0.008},{"t":10.375,"s":"LP","v":1.109,"e":0.008},{"t":10.625,"s":"LP","v":1.102,"e":0.008},{"t":10.875,"s":"LP","v":1.107,"e":0.008},{"t":11.125,"s":"LP","v":1.112,"e":0.008},{"t":11.375,"s":"LP","v":1.109,"e":0.008},{"t":11.625,"s":"LP","v":1.109,"e":0.008},{"t":11.875,"s":"LP","v":1.114,"e":0.008},{"t":12.125,"s":"LP","v":1.107,"e":0.008},{"t":12.375,"s":"LP","v":1.101,"e":0.008},{"t":12.625,"s":"LP","v":1.096,"e":0.008},{"t":12.875,"s":"LP","v":1.094,"e":0.008},{"t":13.125,"s":"LP","v":1.081,"e":0.008},{"t":13.375,"s":"LP","v":1.076,"e":0.008},{"t":13.625,"s":"LP","v":1.069,"e":0.008},{"t":13.875,"s":"LP","v":1.056,"e":0.01},{"t":14.125,"s":"LP","v":1.04,"e":0.01},{"t":14.375,"s":"LP","v":1.035,"e":0.01},{"t":14.625,"s":"LP","v":1.017,"e":0.01},{"t":14.875,"s":"LP","v":1.0,"e":0.01},{"t":15.125,"s":"LP","v":0.984,"e":0.01},{"t":15.375,"s":"LP","v":0.964,"e":0.01},{"t":15.625,"s":"LP","v":0.946,"e":0.01},{"t":15.875,"s":"LP","v":0.927,"e":0.01},{"t":16.125,"s":"LP","v":0.921,"e":0.01},{"t":16.375,"s":"LP","v":0.904,"e":0.01},{"t":16.625,"s":"LP","v":0.893,"e":0.01},{"t":16.875,"s":"LP","v":0.88,"e":0.01},{"t":17.125,"s":"LP","v":0.869,"e":0.01},{"t":17.375,"s":"LP","v":0.862,"e":0.01},{"t":17.625,"s":"LP","v":0.851,"e":0.008},{"t":17.875,"s":"LP","v":0.842,"e":0.008},{"t":18.125,"s":"LP","v":0.834,"e":0.008},{"t":18.375,"s":"LP","v":0.828,"e":0.008},{"t":18.625,"s":"LP","v":0.819,"e":0.008},{"t":18.875,"s":"LP","v":0.822,"e":0.008},{"t":19.125,"s":"LP","v":0.817,"e":0.008},{"t":19.375,"s":"LP","v":0.812,"e":0.008},{"t":19.625,"s":"LP","v":0.807,"e":0.008},{"t":19.875,"s":"LP","v":0.807,"e":0.008},{"t":20.125,"s":"LP","v":0.803,"e":0.008},{"t":20.375,"s":"LP","v":0.801,"e":0.008},{"t":20.625,"s":"LP","v":0.805,"e":0.008},{"t":20.875,"s":"LP","v":0.805,"e":0.008},{"t":21.125,"s":"LP","v":0.797,"e":0.008},{"t":21.375,"s":"LP","v":0.799,"e":0.008},{"t":21.625,"s":"LP","v":0.799,"e":0.008},{"t":21.875,"s":"LP","v":0.805,"e":0.008},{"t":22.125,"s":"LP","v":0.795,"e":0.008},{"t":22.375,"s":"LP","v":0.803,"e":0.008},{"t":22.625,"s":"LP","v":0.795,"e":0.008},{"t":22.875,"s":"LP","v":0.802,"e":0.008},{"t":23.125,"s":"LP","v":0.802,"e":0.008},{"t":23.375,"s":"LP","v":0.794,"e":0.008},{"t":23.625,"s":"LP","v":0.8,"e":0.008},{"t":23.875,"s":"LP","v":0.803,"e":0.008},
{"t":0.125,"s":"DP","v":1.014,"e":0.008},{"t":0.375,"s":"DP","v":1.002,"e":0.009},{"t":0.625,"s":"DP","v":0.99,"e":0.009},{"t":0.875,"s":"DP","v":0.972,"e":0.009},{"t":1.125,"s":"DP","v":0.95,"e":0.011},{"t":1.375,"s":"DP","v":0.933,"e":0.011},{"t":1.625,"s":"DP","v":0.917,"e":0.011},{"t":1.875,"s":"DP","v":0.909,"e":0.011},{"t":2.125,"s":"DP","v":0.896,"e":0.011},{"t":2.375,"s":"DP","v":0.879,"e":0.011},{"t":2.625,"s":"DP","v":0.878,"e":0.009},{"t":2.875,"s":"DP","v":0.861,"e":0.009},{"t":3.125,"s":"DP","v":0.851,"e":0.009},{"t":3.375,"s":"DP","v":0.836,"e":0.008},{"t":3.625,"s":"DP","v":0.841,"e":0.008},{"t":3.875,"s":"DP","v":0.841,"e":0.008},{"t":4.125,"s":"DP","v":0.826,"e":0.008},{"t":4.375,"s":"DP","v":0.829,"e":0.008},{"t":4.625,"s":"DP","v":0.815,"e":0.008},{"t":4.875,"s":"DP","v":0.815,"e":0.008},{"t":5.125,"s":"DP","v":0.812,"e":0.008},{"t":5.375,"s":"DP","v":0.813,"e":0.008},{"t":5.625,"s":"DP","v":0.812,"e":0.008},{"t":5.875,"s":"DP","v":0.82,"e":0.008},{"t":6.125,"s":"DP","v":0.815,"e":0.008},{"t":6.375,"s":"DP","v":0.808,"e":0.008},{"t":6.625,"s":"DP","v":0.808,"e":0.008},{"t":6.875,"s":"DP","v":0.803,"e":0.008},{"t":7.125,"s":"DP","v":0.81,"e":0.008},{"t":7.375,"s":"DP","v":0.811,"e":0.008},{"t":7.625,"s":"DP","v":0.807,"e":0.008},{"t":7.875,"s":"DP","v":0.807,"e":0.008},{"t":8.125,"s":"DP","v":0.808,"e":0.008},{"t":8.375,"s":"DP","v":0.81,"e":0.008},{"t":8.625,"s":"DP","v":0.815,"e":0.008},{"t":8.875,"s":"DP","v":0.815,"e":0.008},{"t":9.125,"s":"DP","v":0.819,"e":0.008},{"t":9.375,"s":"DP","v":0.819,"e":0.008},{"t":9.625,"s":"DP","v":0.816,"e":0.008},{"t":9.875,"s":"DP","v":0.815,"e":0.008},{"t":10.125,"s":"DP","v":0.817,"e":0.008},{"t":10.375,"s":"DP","v":0.819,"e":0.008},{"t":10.625,"s":"DP","v":0.812,"e":0.008},{"t":10.875,"s":"DP","v":0.805,"e":0.008},{"t":11.125,"s":"DP","v":0.797,"e":0.008},{"t":11.375,"s":"DP","v":0.796,"e":0.008},{"t":11.625,"s":"DP","v":0.797,"e":0.008},{"t":11.875,"s":"DP","v":0.79,"e":0.008},{"t":12.125,"s":"DP","v":0.819,"e":0.012},{"t":12.375,"s":"DP","v":0.884,"e":0.015},{"t":12.625,"s":"DP","v":0.918,"e":0.015},{"t":12.875,"s":"DP","v":0.97,"e":0.012},{"t":13.125,"s":"DP","v":1.008,"e":0.008},{"t":13.375,"s":"DP","v":1.022,"e":0.008},{"t":13.625,"s":"DP","v":1.03,"e":0.008},{"t":13.875,"s":"DP","v":1.044,"e":0.008},{"t":14.125,"s":"DP","v":1.053,"e":0.008},{"t":14.375,"s":"DP","v":1.063,"e":0.008},{"t":14.625,"s":"DP","v":1.056,"e":0.008},{"t":14.875,"s":"DP","v":1.062,"e":0.008},{"t":15.125,"s":"DP","v":1.065,"e":0.008},{"t":15.375,"s":"DP","v":1.06,"e":0.008},{"t":15.625,"s":"DP","v":1.058,"e":0.008},{"t":15.875,"s":"DP","v":1.063,"e":0.008},{"t":16.125,"s":"DP","v":1.064,"e":0.008},{"t":16.375,"s":"DP","v":1.071,"e":0.008},{"t":16.625,"s":"DP","v":1.068,"e":0.008},{"t":16.875,"s":"DP","v":1.072,"e":0.008},{"t":17.125,"s":"DP","v":1.076,"e":0.008},{"t":17.375,"s":"DP","v":1.077,"e":0.008},{"t":17.625,"s":"DP","v":1.072,"e":0.008},{"t":17.875,"s":"DP","v":1.075,"e":0.008},{"t":18.125,"s":"DP","v":1.075,"e":0.008},{"t":18.375,"s":"DP","v":1.076,"e":0.008},{"t":18.625,"s":"DP","v":1.076,"e":0.008},{"t":18.875,"s":"DP","v":1.075,"e":0.008},{"t":19.125,"s":"DP","v":1.076,"e":0.008},{"t":19.375,"s":"DP","v":1.083,"e":0.008},{"t":19.625,"s":"DP","v":1.078,"e":0.008},{"t":19.875,"s":"DP","v":1.078,"e":0.008},{"t":20.125,"s":"DP","v":1.075,"e":0.008},{"t":20.375,"s":"DP","v":1.076,"e":0.008},{"t":20.625,"s":"DP","v":1.07,"e":0.008},{"t":20.875,"s":"DP","v":1.069,"e":0.008},{"t":21.125,"s":"DP","v":1.068,"e":0.008},{"t":21.375,"s":"DP","v":1.061,"e":0.008},{"t":21.625,"s":"DP","v":1.057,"e":0.008},{"t":21.875,"s":"DP","v":1.068,"e":0.008},{"t":22.125,"s":"DP","v":1.057,"e":0.008},{"t":22.375,"s":"DP","v":1.051,"e":0.008},{"t":22.625,"s":"DP","v":1.048,"e":0.008},{"t":22.875,"s":"DP","v":1.046,"e":0.008},{"t":23.125,"s":"DP","v":1.041,"e":0.008},{"t":23.375,"s":"DP","v":1.039,"e":0.008},{"t":23.625,"s":"DP","v":1.031,"e":0.008},{"t":23.875,"s":"DP","v":1.03,"e":0.008}
]
},
"vconcat": [
{
 "width": 695, "height": 354,
 "encoding": {
  "x": {"field": "t", "type": "quantitative", "scale": {"domain": [-12, 252], "nice": false, "zero": false},
   "axis": {"values": [0,12,24,36,48,60,72,84,96,108,120,132,144,156,168,180,192,204,216,228,240], "labelExpr": "datum.value % 24 == 0 ? '0' : '12'", "domain": false, "ticks": false, "labelPadding": 10, "labelFontSize": 10, "title": "Zeitgeber Time (hours)", "titlePadding": 7, "titleFontSize": 11}},
  "y": {"field": "v", "type": "quantitative", "scale": {"domain": [0.7, 1.2], "nice": false, "zero": false},
   "axis": {"values": [0.7,0.8,0.9,1.0,1.1,1.2], "format": ".1f", "domainColor": "#000000", "labelPadding": 11, "labelFontSize": 11, "title": "RER", "titlePadding": 15, "titleFontSize": 11}}
 },
 "layer": [
  {"data": {"name": "bar1"}, "mark": {"type": "rect", "stroke": "#000000", "strokeWidth": 1},
   "encoding": {"x2": {"field": "t2"}, "y2": {"field": "v2"},
    "fill": {"field": "ph", "type": "nominal", "scale": {"domain": ["L","D","W","G"], "range": ["#ffffff","#000000","#ffffff","#8a8a8a"]}, "legend": null}}},
  {"data": {"name": "rf"}, "mark": {"type": "rule", "strokeDash": [4,3], "color": "#000000", "strokeWidth": 1.2},
   "encoding": {"y2": {"field": "v2"}}},
  {"data": {"name": "p1"}, "mark": {"type": "errorbar", "ticks": {"size": 8, "color": "#222222"}, "rule": {"color": "#222222"}, "thickness": 1},
   "encoding": {"yError": {"field": "e"}}},
  {"data": {"name": "p1"}, "mark": {"type": "line", "strokeWidth": 1},
   "encoding": {"color": {"field": "s", "type": "nominal", "scale": {"domain": ["LP","DP","AL","X"], "range": ["#000000","#e00000","#1faf1f","#000000"]}, "legend": null}}},
  {"data": {"name": "p1"}, "mark": {"type": "point", "filled": true, "opacity": 1, "size": 64},
   "encoding": {"color": {"field": "s", "type": "nominal", "scale": {"domain": ["LP","DP","AL","X"], "range": ["#000000","#e00000","#1faf1f","#000000"]}, "legend": null},
    "shape": {"field": "s", "type": "nominal", "scale": {"domain": ["LP","DP","AL"], "range": ["diamond","square","triangle-up"]}, "legend": null}}},
  {"data": {"name": "ann1"}, "mark": {"type": "text", "font": "Liberation Serif", "fontWeight": "bold", "fontSize": 11},
   "encoding": {"text": {"field": "txt"}, "color": {"field": "s", "type": "nominal", "scale": {"domain": ["LP","DP","AL","X"], "range": ["#000000","#e00000","#1faf1f","#000000"]}, "legend": null}}},
  {"data": {"name": "lab1"}, "mark": {"type": "text", "font": "Liberation Sans", "fontSize": 26, "align": "left", "color": "#000000"},
   "encoding": {"text": {"field": "txt"}}}
 ]
},
{
 "width": 691, "height": 349,
 "encoding": {
  "x": {"field": "t", "type": "quantitative", "scale": {"domain": [0, 24], "nice": false, "zero": false},
   "axis": {"values": [0,3,6,9,12,15,18,21,24], "format": "d", "offset": 16, "domain": false, "ticks": false, "labelPadding": 9, "labelFontSize": 12, "title": "Zeitgeber Time (hours)", "titlePadding": 7, "titleFontSize": 11}},
  "y": {"field": "v", "type": "quantitative", "scale": {"domain": [0.7, 1.2], "nice": false, "zero": false},
   "axis": {"values": [0.7,0.8,0.9,1.0,1.1,1.2], "format": ".1f", "domainColor": "#000000", "labelPadding": 19, "labelFontSize": 12, "title": "RER", "titlePadding": 15, "titleFontSize": 11}}
 },
 "layer": [
  {"data": {"name": "bar2"}, "mark": {"type": "rect", "stroke": "#777777", "strokeWidth": 1},
   "encoding": {"x2": {"field": "t2"}, "y2": {"field": "v2"},
    "fill": {"field": "ph", "type": "nominal", "scale": {"domain": ["L","D","W","G"], "range": ["#ffffff","#000000","#ffffff","#8a8a8a"]}, "legend": null}}},
  {"data": {"name": "p2"}, "mark": {"type": "errorbar", "ticks": {"size": 8, "color": "#222222"}, "rule": {"color": "#222222"}, "thickness": 1},
   "encoding": {"yError": {"field": "e"}}},
  {"data": {"name": "p2"}, "mark": {"type": "line", "strokeWidth": 1},
   "encoding": {"color": {"field": "s", "type": "nominal", "scale": {"domain": ["LP","DP","AL","X"], "range": ["#000000","#e00000","#1faf1f","#000000"]}, "legend": null}}},
  {"data": {"name": "p2"}, "mark": {"type": "point", "filled": true, "opacity": 1, "size": 70},
   "encoding": {"color": {"field": "s", "type": "nominal", "scale": {"domain": ["LP","DP","AL","X"], "range": ["#000000","#e00000","#1faf1f","#000000"]}, "legend": null},
    "shape": {"field": "s", "type": "nominal", "scale": {"domain": ["LP","DP","AL"], "range": ["diamond","square","triangle-up"]}, "legend": null}}},
  {"data": {"name": "ann2"}, "mark": {"type": "text", "font": "Liberation Serif", "fontWeight": "bold", "fontSize": 12},
   "encoding": {"text": {"field": "txt"}, "color": {"field": "s", "type": "nominal", "scale": {"domain": ["LP","DP","AL","X"], "range": ["#000000","#e00000","#1faf1f","#000000"]}, "legend": null}}},
  {"data": {"name": "lab2"}, "mark": {"type": "text", "font": "Liberation Sans", "fontSize": 26, "align": "left", "color": "#000000"},
   "encoding": {"text": {"field": "txt"}}},
  {"data": {"name": "lab3"}, "mark": {"type": "text", "font": "Liberation Sans", "fontSize": 24, "align": "left", "color": "#000000"},
   "encoding": {"text": {"field": "txt"}}}
 ]
}
]
}
